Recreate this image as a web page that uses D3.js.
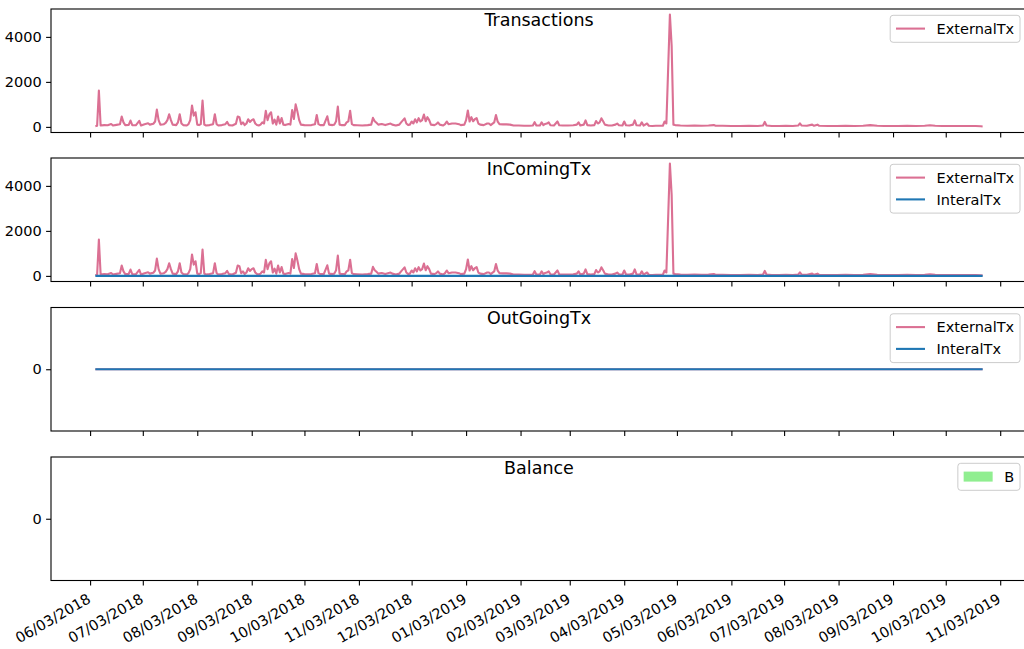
<!DOCTYPE html>
<html><head><meta charset="utf-8">
<script src="https://cdn.jsdelivr.net/npm/d3@7"></script>
<style>
html,body{margin:0;padding:0;background:#fff;}
svg{display:block;font-family:"DejaVu Sans",sans-serif;}
</style></head><body>
<svg id="chart" width="1024" height="649"></svg>
<script>
// ---- data (day offsets counted from startDate) ----
const startDate = "2018-06-03";
const extDays = [3,4,5,6,8,10,12,13,15,17,18,19,20,22,23,24,26,28,29,31,33,34,36,37,38,39,40,42,43,44,45,46,47,49,50,51,52,53,55,56,57,58,59,60,61,62,63,64,65,66,68,70,71,72,73,75,77,78,79,81,83,84,85,86,87,88,89,90,91,92,93,94,95,96,97,98,99,100,101,102,103,104,105,106,107,108,109,110,111,113,114,115,116,117,118,119,120,122,124,126,128,129,130,131,133,135,136,138,139,140,141,142,143,145,146,147,148,149,150,152,155,158,160,161,162,163,164,166,168,170,171,172,174,176,177,179,180,181,182,183,184,185,186,187,188,189,190,191,192,193,194,196,197,198,199,201,202,203,204,206,208,210,211,213,214,215,216,217,218,219,220,221,222,224,226,227,228,230,231,232,233,235,237,239,241,244,247,250,252,253,254,256,257,258,259,260,261,262,264,266,267,269,272,275,277,278,279,281,282,283,285,287,288,289,290,291,292,293,295,297,299,300,301,303,304,305,307,309,310,311,313,314,315,317,318,320,322,324,326,327,328,330,331,332,333,336,340,344,348,352,355,356,360,365,370,375,380,383,384,385,388,392,396,400,403,404,405,408,411,412,414,415,420,425,430,435,440,444,448,452,456,460,465,470,475,478,481,485,490,495,500,504,507,508];
const externalTx = [30,50,1610,60,80,70,130,60,90,120,460,200,80,90,280,80,70,270,60,120,160,100,140,240,770,300,100,120,180,300,560,300,100,80,200,560,150,80,60,120,300,950,500,650,100,80,120,1170,100,60,80,120,560,120,60,80,120,220,80,60,140,460,430,120,200,80,150,340,220,300,340,150,80,60,100,200,150,710,300,550,650,150,320,100,460,150,390,100,80,130,100,750,350,1000,680,300,100,80,70,80,120,530,120,80,80,470,100,80,100,250,900,100,80,80,200,250,720,120,80,70,60,80,100,400,250,180,100,130,80,130,150,100,60,100,200,380,150,80,100,240,150,340,200,390,240,300,550,250,430,300,100,80,120,200,100,60,120,240,120,150,150,120,80,100,300,730,240,430,250,340,390,150,100,80,150,150,80,200,530,230,120,110,110,100,60,60,50,50,60,210,60,60,200,80,130,150,200,70,60,240,70,60,60,70,100,200,60,100,290,80,60,80,260,150,200,380,250,100,60,60,100,150,70,60,240,70,60,100,290,70,60,200,60,150,50,40,50,50,50,240,150,4990,3600,100,80,60,50,60,50,60,80,50,50,40,40,50,40,60,220,60,40,40,50,40,60,160,60,50,100,50,100,50,40,40,50,40,50,80,50,40,40,40,50,40,50,70,50,40,40,40,40,40,30,20];
const intDays = [3,100,200,300,400,508];
const interalTx = [0,0,0,0,0,0];
const outDays = [3,508];
const outExternalTx = [0,0];
const outInteralTx = [0,0];
const xTickLabels = ["06/03/2018","07/03/2018","08/03/2018","09/03/2018","10/03/2018","11/03/2018","12/03/2018","01/03/2019","02/03/2019","03/03/2019","04/03/2019","05/03/2019","06/03/2019","07/03/2019","08/03/2019","09/03/2019","10/03/2019","11/03/2019"];
const txYTicks = [0,2000,4000];
const zeroYTicks = [0];
const panelTitles = ["Transactions","InComingTx","OutGoingTx","Balance"];
const seriesNames = ["ExternalTx","InteralTx"];
const balanceName = "B";

// ---- layout ----
const svg = d3.select("#chart");
const left = 51, right = 1027, tops = [9,158,307.5,457], ph = 123.5;
const pink = "#db7093", blue = "#1f77b4", green = "#90ee90";
const tickFont = 14.5, legFont = 14.5;
const t0 = d3.timeParse("%Y-%m-%d")(startDate);
const toDate = d => d3.timeDay.offset(t0, d);
const parseTick = d3.timeParse("%m/%d/%Y");

const allDays = extDays.concat(intDays, outDays);
const dMin = toDate(d3.min(allDays)), dMax = toDate(d3.max(allDays));
const span = dMax - dMin;
const x = d3.scaleTime()
  .domain([new Date(+dMin - 0.05*span), new Date(+dMax + 0.05*span)])
  .range([left, right]);

function padDomain(lo, hi){ const r = hi-lo; return [lo-0.05*r, hi+0.05*r]; }
function makeSeries(days, vals){ return days.map((d,i)=>({date:toDate(d), v:vals[i]})); }

function drawPanel(i, yDomain, yTicks, series, legendItems){
  const top = tops[i], bottom = top + ph;
  const y = d3.scaleLinear().domain(yDomain).range([bottom, top]);
  const g = svg.append("g");
  const line = d3.line().x(d=>x(d.date)).y(d=>y(d.v));
  series.forEach(s=>{
    g.append("path").datum(s.data).attr("d", line)
      .attr("fill","none").attr("stroke", s.color).attr("stroke-width",2.1)
      .attr("stroke-linejoin","round").attr("stroke-linecap","butt");
  });
  g.append("rect").attr("x",left).attr("y",top).attr("width",right-left).attr("height",ph)
    .attr("fill","none").attr("stroke","#000").attr("stroke-width",1.1);
  const ya = g.append("g").attr("transform",`translate(${left},0)`)
    .call(d3.axisLeft(y).tickValues(yTicks).tickSize(4.9).tickPadding(4.5).tickFormat(d3.format("d")));
  ya.select(".domain").remove();
  ya.attr("font-family",null).attr("font-size",null);
  ya.selectAll(".tick line").attr("stroke","#000").attr("stroke-width",1.1);
  ya.selectAll(".tick text").attr("font-size",tickFont).attr("fill","#000");
  const tickDates = xTickLabels.map(parseTick);
  const xa = g.append("g").attr("transform",`translate(0,${bottom})`)
    .call(d3.axisBottom(x).tickValues(tickDates).tickSize(4.9).tickFormat(""));
  xa.select(".domain").remove();
  xa.selectAll(".tick line").attr("stroke","#000").attr("stroke-width",1.1);
  xa.selectAll(".tick text").remove();
  if (i === 3){
    const lab = g.append("g");
    tickDates.forEach((d,k)=>{
      lab.append("g").attr("transform",`translate(${x(d)-5},${bottom+9.8}) rotate(-30)`)
        .append("text").attr("text-anchor","end").attr("y",13.3)
        .attr("font-size",tickFont).attr("fill","#000").text(xTickLabels[k]);
    });
  }
  g.append("text").attr("x",(left+right)/2).attr("y",top+16.7).attr("text-anchor","middle")
    .attr("font-size",17.5).attr("fill","#000").text(panelTitles[i]);
  // legend
  const pad=5.8, hl=29, htp=11.6, rowSp=21.8;
  const lg = g.append("g");
  const box = lg.append("rect");
  const texts = legendItems.map(it=> lg.append("text").attr("font-size",legFont).attr("fill","#000").text(it.label));
  const tw = d3.max(texts, t=>t.node().getComputedTextLength());
  const bw = pad*2 + hl + htp + tw;
  const bh = 27 + (legendItems.length-1)*rowSp;
  const bx = right - 7 - bw, by = top + 6.3;
  box.attr("x",bx).attr("y",by).attr("width",bw).attr("height",bh).attr("rx",2.9)
    .attr("fill","#fff").attr("fill-opacity",0.8).attr("stroke","#cccccc").attr("stroke-width",1);
  legendItems.forEach((it,k)=>{
    const cy = by + 13.3 + k*rowSp;
    if (it.type === "patch"){
      lg.append("rect").attr("x",bx+pad).attr("y",cy-5).attr("width",hl).attr("height",10).attr("fill",it.color);
    } else {
      lg.append("line").attr("x1",bx+pad).attr("x2",bx+pad+hl).attr("y1",cy).attr("y2",cy)
        .attr("stroke",it.color).attr("stroke-width",2.1);
    }
    texts[k].attr("x",bx+pad+hl+htp).attr("y",cy+5.2);
  });
}

const extS = makeSeries(extDays, externalTx);
const intS = makeSeries(intDays, interalTx);
const zeroDomain = [-0.055, 0.055];

drawPanel(0, padDomain(Math.min(0, d3.min(externalTx)), d3.max(externalTx)), txYTicks,
  [{data:extS,color:pink}], [{label:seriesNames[0],color:pink}]);
drawPanel(1, padDomain(d3.min(externalTx.concat(interalTx)), d3.max(externalTx.concat(interalTx))), txYTicks,
  [{data:extS,color:pink},{data:intS,color:blue}],
  [{label:seriesNames[0],color:pink},{label:seriesNames[1],color:blue}]);
drawPanel(2, zeroDomain, zeroYTicks,
  [{data:makeSeries(outDays,outExternalTx),color:pink},{data:makeSeries(outDays,outInteralTx),color:blue}],
  [{label:seriesNames[0],color:pink},{label:seriesNames[1],color:blue}]);
drawPanel(3, zeroDomain, zeroYTicks, [], [{label:balanceName,color:green,type:"patch"}]);
</script>
</body></html>
